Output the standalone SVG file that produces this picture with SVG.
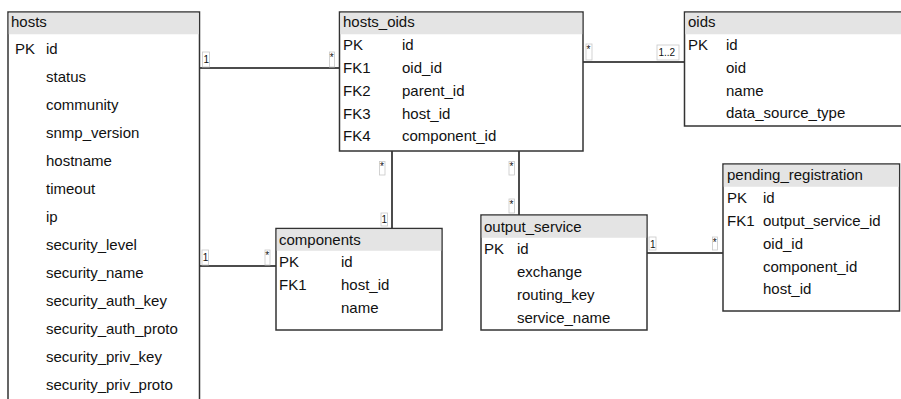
<svg xmlns="http://www.w3.org/2000/svg" width="901" height="399" viewBox="0 0 901 399">
  <style>
    .box { fill: #ffffff; stroke: #333333; stroke-width: 1.5; }
    .hdr { fill: #e4e4e4; }
    text { font-family: "Liberation Sans", Arial, sans-serif; font-size: 15px; fill: #111111; }
    .conn { stroke: #111111; stroke-width: 1.5; fill: none; }
    .badge { fill: #ffffff; stroke: #c8c8c8; stroke-width: 0.8; }
    .bt { font-size: 10px; }
  </style>
  <rect width="901" height="399" fill="#ffffff"/>

  <!-- connectors -->
  <g id="connectors">
    <line class="conn" x1="200" y1="68" x2="339" y2="68"/>
    <line class="conn" x1="583" y1="62" x2="684" y2="62"/>
    <line class="conn" x1="200" y1="266" x2="276" y2="266"/>
    <line class="conn" x1="392" y1="151" x2="392" y2="228"/>
    <line class="conn" x1="519" y1="151" x2="519" y2="215"/>
    <line class="conn" x1="647" y1="253" x2="723" y2="253"/>

    <rect class="badge" x="202.5" y="52" width="7" height="15"/>
    <text class="bt" x="203.5" y="63">1</text>
    <rect class="badge" x="329.5" y="52" width="5" height="15"/>
    <text class="bt" x="329.8" y="61">*</text>

    <rect class="badge" x="586" y="44" width="6" height="16"/>
    <text class="bt" x="586.6" y="53">*</text>
    <rect class="badge" x="657" y="45" width="22" height="15"/>
    <text class="bt" x="658.5" y="56">1..2</text>

    <rect class="badge" x="202" y="250" width="6.5" height="15"/>
    <text class="bt" x="202.8" y="261">1</text>
    <rect class="badge" x="265" y="250" width="5" height="15"/>
    <text class="bt" x="265.3" y="259">*</text>

    <rect class="badge" x="379.5" y="161.5" width="5.5" height="13.5"/>
    <text class="bt" x="380" y="170">*</text>
    <rect class="badge" x="381" y="213" width="6.5" height="13"/>
    <text class="bt" x="381.6" y="223">1</text>

    <rect class="badge" x="509" y="161.5" width="5.5" height="13.5"/>
    <text class="bt" x="509.4" y="170">*</text>
    <rect class="badge" x="509" y="199" width="5.5" height="14"/>
    <text class="bt" x="509.4" y="208">*</text>

    <rect class="badge" x="649" y="237" width="7" height="13"/>
    <text class="bt" x="650" y="247.5">1</text>
    <rect class="badge" x="712.5" y="237" width="5" height="13"/>
    <text class="bt" x="712.8" y="245.5">*</text>
  </g>

  <!-- hosts -->
  <g id="hosts">
    <rect class="box" x="8" y="12" width="191.5" height="400"/>
    <rect class="hdr" x="8.75" y="12.75" width="190" height="21.5"/>
    <text x="11" y="27">hosts</text>
    <text x="15" y="54">PK</text>
    <text x="46" y="54">id</text>
    <text x="46" y="82">status</text>
    <text x="46" y="110">community</text>
    <text x="46" y="138">snmp_version</text>
    <text x="46" y="166">hostname</text>
    <text x="46" y="194">timeout</text>
    <text x="46" y="222">ip</text>
    <text x="46" y="250">security_level</text>
    <text x="46" y="278">security_name</text>
    <text x="46" y="306">security_auth_key</text>
    <text x="46" y="334">security_auth_proto</text>
    <text x="46" y="362">security_priv_key</text>
    <text x="46" y="390">security_priv_proto</text>
  </g>

  <!-- hosts_oids -->
  <g id="hosts_oids">
    <rect class="box" x="339.5" y="12" width="243.5" height="139"/>
    <rect class="hdr" x="340.25" y="12.75" width="242" height="21.5"/>
    <text x="343" y="27">hosts_oids</text>
    <text x="343" y="50">PK</text>
    <text x="402" y="50">id</text>
    <text x="343" y="73">FK1</text>
    <text x="402" y="73">oid_id</text>
    <text x="343" y="96">FK2</text>
    <text x="402" y="96">parent_id</text>
    <text x="343" y="118.5">FK3</text>
    <text x="402" y="118.5">host_id</text>
    <text x="343" y="141">FK4</text>
    <text x="402" y="141">component_id</text>
  </g>

  <!-- oids -->
  <g id="oids">
    <rect class="box" x="684.5" y="12" width="230" height="114"/>
    <rect class="hdr" x="685.25" y="12.75" width="228" height="21.5"/>
    <text x="688" y="27">oids</text>
    <text x="688" y="50">PK</text>
    <text x="726" y="50">id</text>
    <text x="726" y="73">oid</text>
    <text x="726" y="96">name</text>
    <text x="726" y="118">data_source_type</text>
  </g>

  <!-- components -->
  <g id="components">
    <rect class="box" x="276" y="228.5" width="166" height="101.5"/>
    <rect class="hdr" x="276.75" y="229.25" width="164.5" height="21.5"/>
    <text x="279" y="245">components</text>
    <text x="279" y="267">PK</text>
    <text x="341" y="267">id</text>
    <text x="279" y="290">FK1</text>
    <text x="341" y="290">host_id</text>
    <text x="341" y="313">name</text>
  </g>

  <!-- output_service -->
  <g id="output_service">
    <rect class="box" x="481" y="215" width="166" height="115"/>
    <rect class="hdr" x="481.75" y="215.75" width="164.5" height="22"/>
    <text x="484" y="232">output_service</text>
    <text x="484" y="254">PK</text>
    <text x="517" y="254">id</text>
    <text x="517" y="277">exchange</text>
    <text x="517" y="300">routing_key</text>
    <text x="517" y="323">service_name</text>
  </g>

  <!-- pending_registration -->
  <g id="pending_registration">
    <rect class="box" x="723" y="164" width="176.5" height="147"/>
    <rect class="hdr" x="723.75" y="164.75" width="175" height="22"/>
    <text x="727" y="180">pending_registration</text>
    <text x="727" y="203">PK</text>
    <text x="763" y="203">id</text>
    <text x="727" y="226">FK1</text>
    <text x="763" y="226">output_service_id</text>
    <text x="763" y="249">oid_id</text>
    <text x="763" y="272">component_id</text>
    <text x="763" y="294">host_id</text>
  </g>
</svg>
